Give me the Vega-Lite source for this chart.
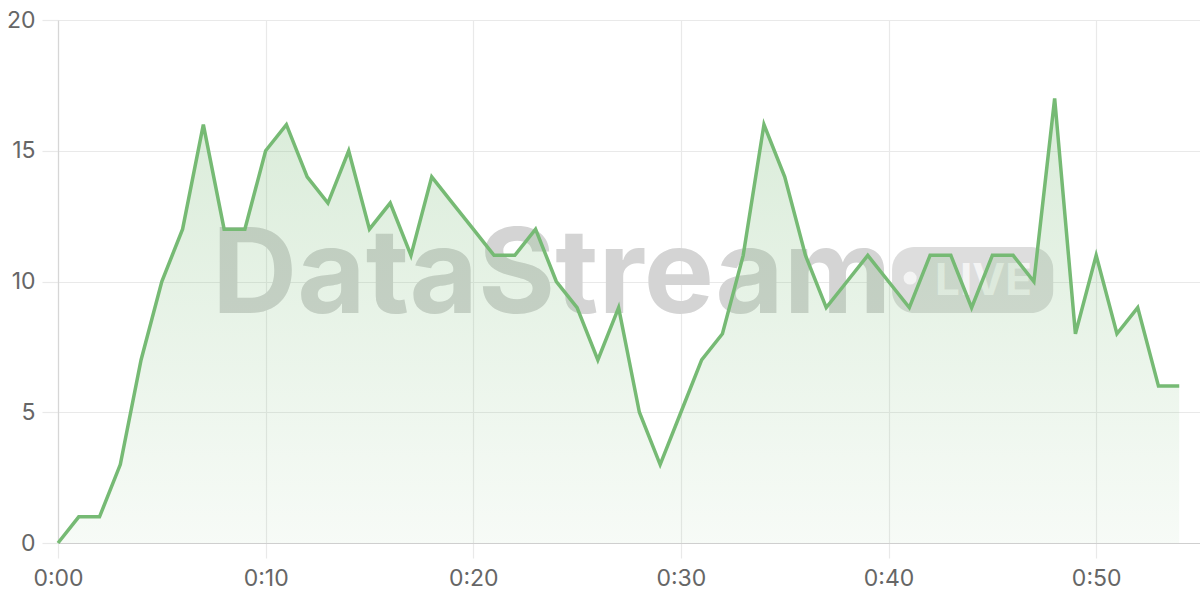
{
  "$schema": "https://vega.github.io/schema/vega-lite/v6.json",
  "width": 1142,
  "height": 523,
  "autosize": {"type": "none"},
  "padding": {"left": 58, "top": 20, "right": 0, "bottom": 57},
  "background": "#ffffff",
  "config": {
    "view": {"stroke": null},
    "font": "Inter",
    "axis": {
      "title": null,
      "grid": true,
      "gridColor": "#e9e9e9",
      "gridWidth": 1.2,
      "tickColor": "#e9e9e9",
      "tickWidth": 1.2,
      "domainWidth": 1.2,
      "labelFontSize": 23,
      "labelColor": "#666666",
      "labelFont": "Inter",
      "labelFlush": false
    }
  },
  "datasets": {
    "series": [
      {"m": 0, "v": 0}, {"m": 1, "v": 1}, {"m": 2, "v": 1}, {"m": 3, "v": 3}, {"m": 4, "v": 7},
      {"m": 5, "v": 10}, {"m": 6, "v": 12}, {"m": 7, "v": 16}, {"m": 8, "v": 12}, {"m": 9, "v": 12},
      {"m": 10, "v": 15}, {"m": 11, "v": 16}, {"m": 12, "v": 14}, {"m": 13, "v": 13}, {"m": 14, "v": 15},
      {"m": 15, "v": 12}, {"m": 16, "v": 13}, {"m": 17, "v": 11}, {"m": 18, "v": 14}, {"m": 19, "v": 13},
      {"m": 20, "v": 12}, {"m": 21, "v": 11}, {"m": 22, "v": 11}, {"m": 23, "v": 12}, {"m": 24, "v": 10},
      {"m": 25, "v": 9}, {"m": 26, "v": 7}, {"m": 27, "v": 9}, {"m": 28, "v": 5}, {"m": 29, "v": 3},
      {"m": 30, "v": 5}, {"m": 31, "v": 7}, {"m": 32, "v": 8}, {"m": 33, "v": 11}, {"m": 34, "v": 16},
      {"m": 35, "v": 14}, {"m": 36, "v": 11}, {"m": 37, "v": 9}, {"m": 38, "v": 10}, {"m": 39, "v": 11},
      {"m": 40, "v": 10}, {"m": 41, "v": 9}, {"m": 42, "v": 11}, {"m": 43, "v": 11}, {"m": 44, "v": 9},
      {"m": 45, "v": 11}, {"m": 46, "v": 11}, {"m": 47, "v": 10}, {"m": 48, "v": 17}, {"m": 49, "v": 8},
      {"m": 50, "v": 11}, {"m": 51, "v": 8}, {"m": 52, "v": 9}, {"m": 53, "v": 6}, {"m": 54, "v": 6}
    ]
  },
  "layer": [
    {
      "data": {"values": [{"t": "DataStream"}]},
      "mark": {"type": "text", "align": "left", "baseline": "alphabetic", "font": "Inter", "fontWeight": "bold", "fontSize": 118, "color": "#d4d4d4"},
      "encoding": {
        "x": {"datum": 7.42, "type": "quantitative", "scale": {"domain": [0, 55], "nice": false, "zero": false},
          "axis": {"values": [0, 10, 20, 30, 40, 50], "labelExpr": "'0:' + (datum.value < 10 ? '0' : '') + datum.value", "tickSize": 15, "domainColor": "#cfcfcf", "labelPadding": 9}},
        "y": {"datum": 8.8, "type": "quantitative", "scale": {"domain": [0, 20], "nice": false},
          "axis": {"values": [0, 5, 10, 15, 20], "tickSize": 16, "domainColor": "#d6d6d6", "labelPadding": 7}},
        "text": {"field": "t"}
      }
    },
    {
      "data": {"values": [{}]},
      "mark": {"type": "rect", "color": "#dddddd", "cornerRadius": 22},
      "encoding": {
        "x": {"datum": 40.17, "type": "quantitative"},
        "x2": {"datum": 47.93},
        "y": {"datum": 11.32, "type": "quantitative"},
        "y2": {"datum": 8.8}
      }
    },
    {
      "data": {"values": [{}]},
      "mark": {"type": "point", "shape": "circle", "filled": true, "color": "#f4f4f4", "opacity": 1, "size": 170},
      "encoding": {
        "x": {"datum": 41.04, "type": "quantitative"},
        "y": {"datum": 10.13, "type": "quantitative"}
      }
    },
    {
      "data": {"values": [{"t": "LIVE"}]},
      "mark": {"type": "text", "align": "left", "baseline": "alphabetic", "font": "Inter", "fontWeight": "bold", "fontSize": 44, "color": "#f4f4f4"},
      "encoding": {
        "x": {"datum": 42.24, "type": "quantitative"},
        "y": {"datum": 9.48, "type": "quantitative"},
        "text": {"field": "t"}
      }
    },
    {
      "data": {"name": "series"},
      "mark": {
        "type": "area",
        "color": {
          "gradient": "linear",
          "x1": 0, "y1": 0, "x2": 0, "y2": 1,
          "stops": [
            {"offset": 0, "color": "rgba(116,184,114,0.27)"},
            {"offset": 1, "color": "rgba(116,184,114,0.06)"}
          ]
        }
      },
      "encoding": {
        "x": {"field": "m", "type": "quantitative"},
        "y": {"field": "v", "type": "quantitative"}
      }
    },
    {
      "data": {"name": "series"},
      "mark": {"type": "line", "color": "#76ba74", "strokeWidth": 3.5, "strokeJoin": "miter"},
      "encoding": {
        "x": {"field": "m", "type": "quantitative"},
        "y": {"field": "v", "type": "quantitative"}
      }
    }
  ]
}
